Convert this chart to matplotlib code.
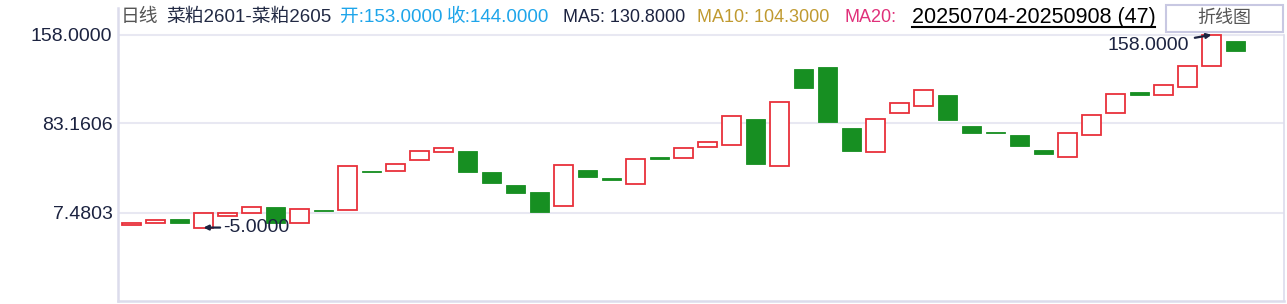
import matplotlib
matplotlib.use('Agg')
import matplotlib.pyplot as plt
from matplotlib.patches import Rectangle
import numpy as np

plt.rcParams['font.family'] = ['Liberation Sans', 'Noto Sans CJK SC', 'DejaVu Sans']

# daily spread 菜粕2601-菜粕2605, 47 sessions
opens = [-3, -1, 2, -5, 5, 7, 12, -1, 10, 10, 43, 43, 52, 59, 60, 42, 31, 25, 13, 44,
         37, 32, 55, 54, 63, 65, 87, 47, 129, 131, 79, 59, 92, 98, 107, 81, 76, 73, 61, 55,
         73, 92, 110, 107, 114, 132, 153]
closes = [-1, 1, -1, 7, 7, 12, -1, 11, 9, 47, 42, 49, 60, 62, 42, 33, 24, 8, 48, 38,
          35, 53, 53, 62, 67, 89, 49, 101, 113, 84, 60, 87, 100, 111, 86, 75, 75, 64, 57, 75,
          90, 108, 107, 116, 132, 158, 144]
yticks = [158.0, 83.1606, 7.4803]
ytick_labels = ['158.0000', '83.1606', '7.4803']
min_idx, min_val = 3, -5.0
max_idx, max_val = 45, 158.0

RED = '#e8303a'
GREEN = '#178f22'
EDGE = '#dcdcec'
NAVY = '#1c2340'

W, H = 1287, 304
fig = plt.figure(figsize=(W / 100, H / 100), dpi=100)
ax = fig.add_axes([118 / W, 3 / H, (1284 - 118) / W, (301 - 8) / H])

o = np.array(opens, dtype=float)
c = np.array(closes, dtype=float)
x = np.arange(len(o))
up = c >= o

ax.bar(x[up], c[up] - o[up], bottom=o[up], width=0.78, facecolor='white',
       edgecolor=RED, linewidth=1.3, zorder=3, clip_on=False)
ax.bar(x[~up], c[~up] - o[~up], bottom=o[~up], width=0.78, facecolor=GREEN,
       edgecolor=GREEN, linewidth=0.6, zorder=3, clip_on=False)

ymin, ymax = -67.1, 180.7
ax.set_xlim(-0.56, 48.02)
ax.set_ylim(ymin, ymax)

ax.set_yticks(yticks)
ax.set_yticklabels(ytick_labels)
ax.set_xticks([])
ax.tick_params(axis='y', length=0, pad=4, labelsize=14, labelcolor=NAVY)
ax.yaxis.grid(True, color='#e8e8f2', linewidth=1.5, zorder=0)
ax.set_axisbelow(True)

for s in ['top', 'right']:
    ax.spines[s].set_visible(False)
for s in ['left', 'bottom']:
    ax.spines[s].set_color(EDGE)
    ax.spines[s].set_linewidth(1.8)
frac158 = (158 - ymin) / (ymax - ymin)
ax.plot([1, 1], [0, frac158], transform=ax.transAxes, color=EDGE, lw=1.2, clip_on=False)

# min / max annotations
ax.annotate('-5.0000', xy=(min_idx, min_val), xytext=(14, 0), textcoords='offset points',
            ha='left', va='center', fontsize=14, color=NAVY,
            arrowprops=dict(arrowstyle='-|>', color=NAVY, lw=1.6, shrinkA=0, shrinkB=0,
                            mutation_scale=7))
ax.annotate('158.0000', xy=(max_idx, max_val), xytext=(-16, -8), textcoords='offset points',
            ha='right', va='center', fontsize=14, color=NAVY,
            arrowprops=dict(arrowstyle='-|>', color=NAVY, lw=1.6, shrinkA=2, shrinkB=0,
                            mutation_scale=7))

# header line
hy = 1 - 17 / H
def htext(px, s, color, size=13.5):
    return fig.text(px / W, hy, s, color=color, fontsize=size, ha='left', va='center')

htext(121, '日线', '#555555')
htext(166, '菜粕2601-菜粕2605', '#222a44')
htext(340, '开:153.0000', '#1ea5ea')
htext(447, '收:144.0000', '#1ea5ea')
htext(563, 'MA5: 130.8000', NAVY, 13)
htext(697, 'MA10: 104.3000', '#c09a30', 13)
htext(845, 'MA20:', '#e0307a', 13)
htext(912, '20250704-20250908 (47)', '#000000', 15.5)
fig.add_artist(plt.Line2D([912 / W, 1155 / W], [1 - 27 / H, 1 - 27 / H], color='black', lw=1.5))

fig.add_artist(Rectangle((1166 / W, 1 - 32 / H), (1283 - 1166) / W, 27 / H,
                         facecolor='white', edgecolor='#c8c8e2', lw=1.5))
fig.text(1224 / W, 1 - 18 / H, '折线图', color='#555555', fontsize=13, ha='center', va='center')

fig.savefig('out.png', dpi=100)
